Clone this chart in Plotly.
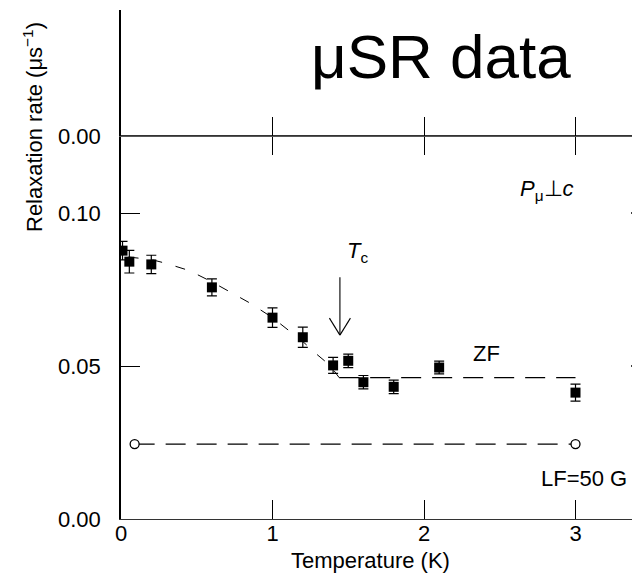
import plotly.graph_objects as go

# ---- data ----
zf_T = [0.01, 0.055, 0.20, 0.60, 1.00, 1.20, 1.40, 1.50, 1.60, 1.80, 2.10, 3.00]
zf_rate = [0.0877, 0.0841, 0.0832, 0.0757, 0.0658, 0.0594, 0.0502, 0.0517, 0.0447, 0.0432, 0.0495, 0.0413]
zf_err = [0.0030, 0.0037, 0.0030, 0.0028, 0.0032, 0.0033, 0.0026, 0.0022, 0.0022, 0.0022, 0.0021, 0.0028]

lf_T = [0.09, 3.00]
lf_rate = [0.0245, 0.0245]
lf_err = [0.0008, 0.0008]

# dashed guide-to-the-eye line through ZF data
fit_T_low = [0.05, 0.20, 0.30, 0.45, 0.60, 0.70, 0.85, 1.00, 1.10, 1.20, 1.30, 1.38, 1.44]
fit_rate_low = [0.0856, 0.0848, 0.0835, 0.0812, 0.0775, 0.0748, 0.0706, 0.0658, 0.0620, 0.0580, 0.0535, 0.0502, 0.0462]
fit_T_high = [1.44, 3.00]
fit_rate_high = [0.0462, 0.0462]

lf_line_T = [0.09, 3.00]
lf_line_rate = [0.0245, 0.0245]

Tc = 1.445
Tc_arrow_tip = 0.0601
Tc_arrow_tail = 0.0795
x_ticks = [0, 1, 2, 3]
y_ticks = [0.00, 0.05, 0.10]
y_ticktext = ["0.00", "0.05", "0.10"]

FONT = "Liberation Sans, Arial, sans-serif"
FS = 22

fig = go.Figure()

fig.add_trace(go.Scatter(x=fit_T_low, y=fit_rate_low, mode="lines",
                         line=dict(color="black", width=1, dash="10px,14px"),
                         showlegend=False, hoverinfo="skip"))
fig.add_trace(go.Scatter(x=fit_T_high, y=fit_rate_high, mode="lines",
                         line=dict(color="black", width=1.2, dash="20px,11px"),
                         showlegend=False, hoverinfo="skip"))
fig.add_trace(go.Scatter(x=lf_line_T, y=lf_line_rate, mode="lines",
                         line=dict(color="black", width=1.2, dash="20px,11px"),
                         showlegend=False, hoverinfo="skip"))

fig.add_trace(go.Scatter(x=zf_T, y=zf_rate, mode="markers",
                         marker=dict(symbol="square", size=10, color="black"),
                         error_y=dict(type="data", array=zf_err, visible=True,
                                      color="black", thickness=1.2, width=5),
                         showlegend=False, name="ZF"))
fig.add_trace(go.Scatter(x=lf_T, y=lf_rate, mode="markers",
                         marker=dict(symbol="circle", size=9, color="white",
                                     line=dict(color="black", width=1.3)),
                         error_y=dict(type="data", array=lf_err, visible=True,
                                      color="black", thickness=1, width=4),
                         showlegend=False, name="LF=50 G"))

# top (cut-off) panel
fig.add_trace(go.Scatter(x=[None], y=[None], xaxis="x2", yaxis="y2", showlegend=False))

# Page body has an 8px margin: figure is sized/offset so the plot lands where the reference has it.
xr = [0, 519 / 151.5]
split = 383 / 509

fig.update_layout(
    width=632, height=566,
    margin=dict(l=113, r=0, t=2, b=55),
    paper_bgcolor="white", plot_bgcolor="white",
    font=dict(family=FONT, size=FS, color="black"),
    xaxis=dict(range=xr, domain=[0, 1], anchor="y",
               tickvals=x_ticks, ticks="inside", ticklen=19, tickwidth=1.3,
               tickcolor="black", showline=True, linecolor="#333333", linewidth=1,
               mirror="ticks", showgrid=False, zeroline=False,
               ticklabelstandoff=-5, tickfont=dict(size=FS)),
    yaxis=dict(range=[0, (519 - 136) / 153 * 0.05], domain=[0, split], anchor="x",
               tickvals=y_ticks, ticktext=y_ticktext, ticks="inside", ticklen=19,
               tickwidth=1.3, tickcolor="black", showline=True, linecolor="black",
               linewidth=1.5, showgrid=False, zeroline=False,
               ticklabelstandoff=14, tickfont=dict(size=FS)),
    xaxis2=dict(range=xr, domain=[0, 1], anchor="y2", matches="x",
                tickvals=[1, 2, 3], ticks="inside", ticklen=19, tickwidth=1.3,
                tickcolor="black", showticklabels=False, showline=True,
                linecolor="#555555", linewidth=1, showgrid=False, zeroline=False),
    yaxis2=dict(range=[0, 1], domain=[split, 1], anchor="x2",
                tickvals=[0], ticktext=["0.00"], ticks="", showline=True,
                linecolor="black", linewidth=1.5, showgrid=False, zeroline=False,
                ticklabelstandoff=14, tickfont=dict(size=FS)),
)

def px_x(p):
    return (p - 121) / 519

def px_y(p):
    return (519 - p) / 509

annotations = [
    dict(text="μSR data", xref="paper", yref="paper", x=px_x(441), y=px_y(57),
         showarrow=False, font=dict(size=62, family=FONT), xanchor="center", yanchor="middle"),
    dict(text="Relaxation rate (μs<sup>−1</sup>)", xref="paper", yref="paper",
         x=px_x(33), y=px_y(127), textangle=-90, showarrow=False,
         font=dict(size=FS, family=FONT), xanchor="center", yanchor="middle"),
    dict(text="Temperature (K)", xref="paper", yref="paper", x=px_x(370), y=px_y(560),
         showarrow=False, font=dict(size=FS, family=FONT), xanchor="center", yanchor="middle"),
    dict(text="ZF", x=2.415, y=0.0542, xref="x", yref="y", showarrow=False,
         font=dict(size=FS, family=FONT)),
    dict(text="LF=50 G", x=3.056, y=0.0134, xref="x", yref="y", showarrow=False,
         font=dict(size=FS, family=FONT)),
    dict(text="<i>P</i><sub>μ</sub>⊥<i>c</i>", x=2.814, y=0.1075, xref="x", yref="y",
         showarrow=False, font=dict(size=FS, family=FONT)),
    dict(text="<i>T</i><sub>c</sub>", x=1.56, y=0.0873, xref="x", yref="y",
         showarrow=False, font=dict(size=FS, family=FONT)),
    dict(text="", x=Tc, y=Tc_arrow_tip, xref="x", yref="y", ax=Tc, ay=Tc_arrow_tail,
         axref="x", ayref="y", showarrow=True, arrowhead=0,
         arrowwidth=1.1, arrowcolor="black"),
]
fig.update_layout(annotations=annotations)

# open "V" arrow head for the Tc marker
wing_dx = 10.5 / 151.5
wing_dy = 17 / 153 * 0.05
for s in (-1, 1):
    fig.add_shape(type="line", xref="x", yref="y", x0=Tc, y0=Tc_arrow_tip,
                  x1=Tc + s * wing_dx, y1=Tc_arrow_tip + wing_dy,
                  line=dict(color="black", width=1.1))

# right-hand ticks of the (cut-off) right axis
for yv in [0.05, 0.10]:
    fig.add_shape(type="line", xref="paper", yref="y", x0=1 - 9 / 519, x1=1,
                  y0=yv, y1=yv, line=dict(color="black", width=1.3))

fig.write_html("out.html")
